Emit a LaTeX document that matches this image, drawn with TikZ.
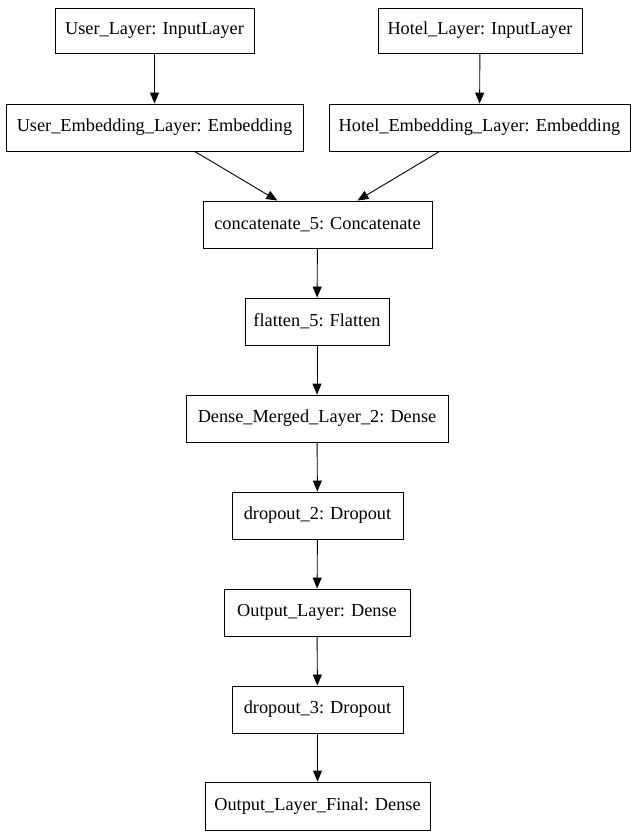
\documentclass[tikz,border=0pt]{standalone}
\usepackage{fontspec}
\setmainfont{Liberation Serif}
\usetikzlibrary{arrows.meta}
\begin{document}
\begin{tikzpicture}[x=1pt,y=-1pt,
  layer/.style={draw,line width=0.9pt,inner sep=0pt,font=\fontsize{18.3}{20}\selectfont,minimum height=47pt},
  edge/.style={line width=0.9pt,-{Triangle[width=9pt,length=11pt]}}]
\useasboundingbox (0,0) rectangle (637,839);
\node[layer,minimum width=199pt,minimum height=45pt] (ul) at (154.5,30.5) {User\_Layer: InputLayer};
\node[layer,minimum width=204pt,minimum height=45pt] (hl) at (480,30.5) {Hotel\_Layer: InputLayer};
\node[layer,minimum width=297pt] (ue) at (154.5,127.5) {User\_Embedding\_Layer: Embedding};
\node[layer,minimum width=301pt] (he) at (479.5,127.5) {Hotel\_Embedding\_Layer: Embedding};
\node[layer,minimum width=229pt] (cc) at (317.5,224.5) {concatenate\_5: Concatenate};
\node[layer,minimum width=144pt] (fl) at (317,321.5) {flatten\_5: Flatten};
\node[layer,minimum width=262pt] (dm) at (317,418.5) {Dense\_Merged\_Layer\_2: Dense};
\node[layer,minimum width=171pt] (d2) at (317.5,515.5) {dropout\_2: Dropout};
\node[layer,minimum width=186pt] (ol) at (317,612.5) {Output\_Layer: Dense};
\node[layer,minimum width=171pt] (d3) at (317.5,709.5) {dropout\_3: Dropout};
\node[layer,minimum width=225pt,minimum height=48pt] (of) at (317.5,806) {Output\_Layer\_Final: Dense};
\draw[edge] (ul) -- (ue);
\draw[edge] (hl) -- (he);
\draw[edge] (ue) -- (cc);
\draw[edge] (he) -- (cc);
\draw[edge] (cc) -- (fl);
\draw[edge] (fl) -- (dm);
\draw[edge] (dm) -- (d2);
\draw[edge] (d2) -- (ol);
\draw[edge] (ol) -- (d3);
\draw[edge] (d3) -- (of);
\end{tikzpicture}
\end{document}
